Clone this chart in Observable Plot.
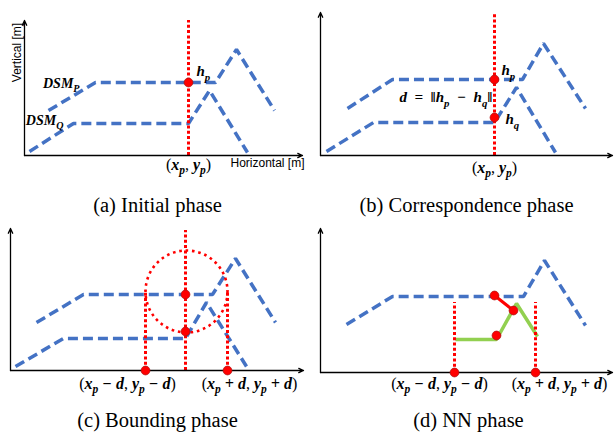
<!DOCTYPE html>
<html><head><meta charset="utf-8">
<script src="https://cdn.jsdelivr.net/npm/d3@7"></script>
<script src="https://cdn.jsdelivr.net/npm/@observablehq/plot@0.6"></script>
<style>
body{margin:0;background:#fff;}
#fig{position:relative;width:614px;height:432px;overflow:hidden;background:#fff;}
#fig svg{position:absolute;}
</style></head><body><div id="fig"></div>
<script>
// ---------- data (panel-local units: h = horizontal, v = vertical) ----------
const captions = ["(a) Initial phase", "(b) Correspondence phase", "(c) Bounding phase", "(d) NN phase"];

// DSM profiles
const dsmP_a = [{h:24,v:45},{h:71,v:73},{h:191,v:73},{h:212,v:106},{h:250,v:45}];
const dsmQ_a = [{h:5,v:4},{h:49,v:32},{h:164,v:32},{h:185,v:65},{h:223,v:3}];
const dsmP_b = [{h:27,v:47},{h:72,v:76},{h:202,v:76},{h:223,v:112},{h:265,v:47}];
const dsmQ_b = [{h:6,v:4},{h:53,v:33},{h:174,v:33},{h:196,v:68},{h:235,v:3}];
const dsmP_c = [{h:26,v:48},{h:73,v:76},{h:202,v:76},{h:225,v:112},{h:265,v:48}];
const dsmQ_c = [{h:5,v:4},{h:53,v:32},{h:175,v:32},{h:196,v:68},{h:236,v:4}];
const dsmP_d = [{h:26,v:48},{h:72,v:76},{h:203,v:76},{h:224,v:112},{h:265,v:47}];
const dsmQ_d = [{h:135,v:33},{h:176,v:33},{h:196,v:69},{h:217,v:36}];   // candidate part (green)
const nnSeg_d = [{h:174,v:77},{h:193,v:62}];                              // nearest-neighbour link

// axis extents
const axes_a = {hEnd:278, vEnd:135};
const axes_b = {hEnd:292, vEnd:143};
const axes_c = {hEnd:293, vEnd:142};
const axes_d = {hEnd:292, vEnd:144};

// red dotted verticals
const rules_a = [{h:164, v1:0, v2:135}];
const rules_b = [{h:174, v1:0, v2:142}];
const rules_c = [{h:175, v1:0, v2:140},{h:135, v1:0, v2:80},{h:217, v1:0, v2:80}];
const rules_d = [{h:134, v1:0, v2:70},{h:215, v1:0, v2:70}];

// search circle (c)
const circle_c = [{h:176, v:79}];

// red points
const dots_a = [{h:164,v:73}];
const dots_b = [{h:174,v:76},{h:174,v:38}];
const dots_c = [{h:175,v:76},{h:175,v:39},{h:135,v:0},{h:217,v:0}];
const dots_d = [{h:174,v:77},{h:193,v:62},{h:176,v:37},{h:134,v:0},{h:215,v:0}];

// math labels
const labH_a     = [{h:172,v:84,t:"h_p"}];
const labDSM_a   = [{h:55,v:72,t:"DSM_P"},{h:39,v:35,t:"DSM_Q"}];
const labMid_a   = [{h:164,v:-9,t:"(x_p, y_p)"}];
const labH_b     = [{h:181,v:85,t:"h_p"},{h:185,v:36,t:"h_q"}];
const labEnd_b   = [{h:172,v:58,t:"d\u2002=\u2002‖h_p\u2002−\u2002h_q‖"}];
const labMid_b   = [{h:174,v:-12,t:"(x_p, y_p)"}];
const labMid_c   = [{h:117,v:-13,t:"(x_p − d, y_p − d)"},{h:239,v:-13,t:"(x_p + d, y_p + d)"}];
const labMid_d   = [{h:119,v:-11,t:"(x_p − d, y_p − d)"},{h:239,v:-11,t:"(x_p + d, y_p + d)"}];

const axisTitles_a = [{h:206,v:-8,t:"Horizontal [m]"}];
const axisTitleV_a = [{h:-7,v:103,t:"Vertical [m]"}];
const capPos = [{h:133,v:-50},{h:146,v:-50},{h:147,v:-50},{h:148,v:-48}];

// ---------- styles ----------
const BLUE = "#4472C4", RED = "#FF0000", GREEN = "#92D050";
const MATH = "'Liberation Serif', 'DejaVu Serif', serif";
const fig = document.getElementById("fig");

function axisMarks(ax){
  return Plot.arrow([{x1:0,y1:0,x2:ax.hEnd,y2:0},{x1:0,y1:0,x2:0,y2:ax.vEnd}],
    {x1:"x1",y1:"y1",x2:"x2",y2:"y2",stroke:"black",strokeWidth:1.3,headLength:6,headAngle:50});
}
function dsm(data, color, dashed){
  return Plot.line(data,{x:"h",y:"v",stroke:color,strokeWidth:3.5,
    strokeDasharray: dashed ? "10,5" : null, strokeLinecap:"butt", strokeLinejoin:"miter"});
}
function redRules(data){
  return Plot.ruleX(data,{x:"h",y1:"v1",y2:"v2",stroke:RED,strokeWidth:3,strokeDasharray:"3,2.3",strokeLinecap:"butt"});
}
function redDots(data){
  return Plot.dot(data,{x:"h",y:"v",r:4.4,fill:RED,stroke:"#B01010",strokeWidth:0.8});
}
function mathText(data, anchor, size){
  return Plot.text(data,{x:"h",y:"v",text:"t",textAnchor:anchor,lineAnchor:"middle",
    fontFamily:MATH,fontSize:size,fontWeight:"bold",fontStyle:"italic",fill:"black"});
}
function caption(i){
  return Plot.text([capPos[i]],{x:"h",y:"v",text:()=>captions[i],textAnchor:"middle",lineAnchor:"middle",
    fontFamily:"'Liberation Serif', serif",fontSize:20.5,fill:"black"});
}

function panel(left, top, marks){
  const p = Plot.plot({
    width:319, height:216, marginLeft:24, marginRight:0, marginTop:10, marginBottom:61,
    x:{domain:[0,295], axis:null}, y:{domain:[0,145], axis:null},
    style:{background:"transparent", overflow:"visible"},
    marks
  });
  p.style.left = left + "px";
  p.style.top = top + "px";
  fig.append(p);
  return p;
}

// (a)
panel(0, 0, [
  dsm(dsmP_a, BLUE, true), dsm(dsmQ_a, BLUE, true),
  redRules(rules_a), axisMarks(axes_a), redDots(dots_a),
  mathText(labH_a,"start",15), mathText(labDSM_a,"end",14), mathText(labMid_a,"middle",16),
  Plot.text(axisTitles_a,{x:"h",y:"v",text:"t",textAnchor:"start",lineAnchor:"middle",fontFamily:"'Liberation Sans', Arial, sans-serif",fontSize:12,fill:"black"}),
  Plot.text(axisTitleV_a,{x:"h",y:"v",text:"t",rotate:-90,textAnchor:"middle",lineAnchor:"middle",fontFamily:"'Liberation Sans', Arial, sans-serif",fontSize:12,fill:"black"}),
  caption(0)
]);
// (b)
panel(296, 0, [
  dsm(dsmP_b, BLUE, true), dsm(dsmQ_b, BLUE, true),
  redRules(rules_b), axisMarks(axes_b), redDots(dots_b),
  mathText(labH_b,"start",15), mathText(labEnd_b,"end",15), mathText(labMid_b,"middle",16),
  caption(1)
]);
// (c)
panel(-14, 215, [
  dsm(dsmP_c, BLUE, true), dsm(dsmQ_c, BLUE, true),
  Plot.dot(circle_c,{x:"h",y:"v",r:41,fill:"none",stroke:RED,strokeWidth:2.6,strokeDasharray:"2.6,3.8"}),
  redRules(rules_c), axisMarks(axes_c), redDots(dots_c),
  mathText(labMid_c,"middle",16),
  caption(2)
]);
// (d)
panel(296, 217, [
  dsm(dsmP_d, BLUE, true), dsm(dsmQ_d, GREEN, false),
  Plot.line(nnSeg_d,{x:"h",y:"v",stroke:RED,strokeWidth:3}),
  redRules(rules_d), axisMarks(axes_d), redDots(dots_d),
  mathText(labMid_d,"middle",16),
  caption(3)
]);

// subscripts for math labels
const NS = "http://www.w3.org/2000/svg";
fig.querySelectorAll("text").forEach(t => {
  const s = t.textContent;
  if (!s.includes("_")) return;
  const fs = parseFloat(getComputedStyle(t).fontSize) || 13;
  t.textContent = "";
  t.style.whiteSpace = "pre";
  let shifted = false;
  for (let i = 0; i < s.length; i++) {
    let c = s[i], sub = false;
    if (c === "_") { sub = true; c = s[++i]; }
    const ts = document.createElementNS(NS, "tspan");
    ts.textContent = c;
    if (sub) { ts.setAttribute("font-size", (fs*0.72).toFixed(1)); ts.setAttribute("dy", (fs*0.28).toFixed(1)); shifted = true; }
    else if (shifted) { ts.setAttribute("dy", (-fs*0.28).toFixed(1)); shifted = false; }
    if ("(),".includes(c)) { ts.setAttribute("font-style","normal"); ts.setAttribute("font-weight","normal"); }
    t.appendChild(ts);
  }
});
</script>
</body></html>
